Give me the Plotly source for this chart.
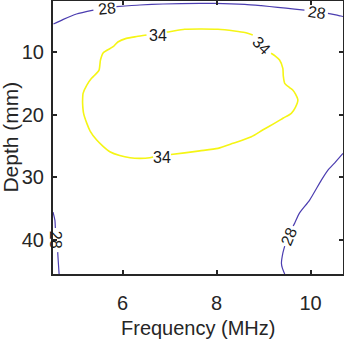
import plotly.graph_objects as go

# contour level 34 (yellow), split where the labels sit
c34_a_freq = [6.51, 6.30, 6.08, 5.90, 5.80, 5.59, 5.53, 5.50, 5.41, 5.34, 5.24, 5.16, 5.15, 5.15,
              5.17, 5.24, 5.31, 5.45, 5.58, 5.73, 5.94, 6.16, 6.37, 6.58, 6.65]
c34_a_depth = [7.34, 7.58, 7.87, 8.45, 9.20, 10.16, 11.32, 12.92, 13.71, 14.24, 15.31, 16.63, 17.69, 18.22,
               19.77, 21.41, 22.63, 24.07, 25.02, 25.93, 26.54, 26.89, 26.98, 26.89, 26.78]
c34_b_freq = [7.03, 7.32, 7.64, 8.03, 8.35, 8.74, 8.98, 9.23, 9.42, 9.59, 9.68, 9.73, 9.68, 9.62,
              9.55, 9.45, 9.42, 9.41, 9.34, 9.25, 9.16]
c34_b_depth = [26.38, 26.11, 25.79, 25.39, 24.59, 23.54, 22.47, 21.41, 20.56, 19.81, 18.81, 17.69, 16.74, 16.10,
               15.70, 15.03, 13.87, 12.64, 11.32, 10.69, 10.25]
c34_c_freq = [8.77, 8.60, 8.38, 8.03, 7.64, 7.32, 7.00, 6.94]
c34_c_depth = [7.34, 6.94, 6.70, 6.43, 6.38, 6.43, 6.81, 6.86]

# contour level 28 (blue)
c28_top1_freq = [4.53, 4.74, 5.02, 5.38]
c28_top1_depth = [5.59, 4.84, 3.99, 3.36]
c28_top2_freq = [5.87, 6.37, 6.86, 7.64, 7.96, 8.60, 8.95, 9.30, 9.66, 9.87]
c28_top2_depth = [2.83, 2.56, 2.40, 2.29, 2.29, 2.45, 2.67, 2.93, 3.20, 3.36]
c28_top3_freq = [10.37, 10.65, 10.69]
c28_top3_depth = [3.88, 4.31, 4.39]
c28_right1_freq = [10.69, 10.51, 10.37, 10.23, 9.98, 9.76, 9.66, 9.63]
c28_right1_depth = [26.19, 27.73, 28.85, 30.44, 33.63, 35.74, 37.34, 37.77]
c28_right2_freq = [9.45, 9.41, 9.38, 9.40, 9.45]
c28_right2_depth = [40.95, 42.07, 43.71, 44.46, 45.41]
c28_left1_freq = [4.52, 4.56, 4.57]
c28_left1_depth = [35.54, 36.81, 38.09]
c28_left2_freq = [4.62, 4.63, 4.65]
c28_left2_depth = [41.91, 43.18, 45.42]

# contour labels
label_text = ['34', '34', '34', '28', '28', '28', '28']
label_freq = [6.76, 6.83, 8.96, 5.66, 10.14, 9.54, 4.59]
label_depth = [7.34, 26.80, 8.93, 3.09, 3.71, 39.44, 40.00]

x_ticks = [6, 8, 10]
y_ticks = [10, 20, 30, 40]

BLUE = '#4b3db0'
YELLOW = '#f5f515'
FONT = 'Liberation Sans, Arial'
label_angles = [0, 0, 45, -6, 8, -67, 90]

fig = go.Figure()

segments = [
    (c34_a_freq, c34_a_depth, YELLOW, 1.6),
    (c34_b_freq, c34_b_depth, YELLOW, 1.6),
    (c34_c_freq, c34_c_depth, YELLOW, 1.6),
    (c28_top1_freq, c28_top1_depth, BLUE, 1.2),
    (c28_top2_freq, c28_top2_depth, BLUE, 1.2),
    (c28_top3_freq, c28_top3_depth, BLUE, 1.2),
    (c28_right1_freq, c28_right1_depth, BLUE, 1.2),
    (c28_right2_freq, c28_right2_depth, BLUE, 1.2),
    (c28_left1_freq, c28_left1_depth, BLUE, 1.2),
    (c28_left2_freq, c28_left2_depth, BLUE, 1.2),
]
for xs, ys, col, w in segments:
    fig.add_trace(go.Scatter(x=xs, y=ys, mode='lines',
                             line=dict(color=col, width=w, shape='spline', smoothing=0.6),
                             showlegend=False, hoverinfo='skip'))

for txt, fx, dy, ang in zip(label_text, label_freq, label_depth, label_angles):
    fig.add_annotation(x=fx, y=dy, xref='x', yref='y', text=txt, showarrow=False,
                       textangle=ang, font=dict(family=FONT, size=16, color='#1a1a1a'))

# axis titles placed as paper annotations
fig.add_annotation(x=0.5, y=-0.152, xref='paper', yref='paper', text='Frequency (MHz)',
                   showarrow=False, xanchor='center', yanchor='top',
                   font=dict(family=FONT, size=20, color='#262626'))
fig.add_annotation(x=-0.148, y=0.5, xref='paper', yref='paper', text='Depth (mm)',
                   showarrow=False, xanchor='center', yanchor='middle', textangle=-90,
                   font=dict(family=FONT, size=21, color='#262626'))

axis_style = dict(showline=True, linecolor='#262626', linewidth=2, mirror='ticks',
                  ticks='inside', ticklen=4, tickwidth=1.5, tickcolor='#262626',
                  showgrid=False, zeroline=False, automargin=False,
                  tickfont=dict(family=FONT, size=20, color='#262626'))

fig.update_layout(
    width=344, height=340,
    margin=dict(l=53, r=1, t=1, b=66),
    plot_bgcolor='white', paper_bgcolor='white',
    xaxis=dict(range=[4.52, 10.69], tickvals=x_ticks, ticklabelstandoff=10, **axis_style),
    yaxis=dict(range=[45.4, 1.92], tickvals=y_ticks, ticklabelstandoff=3, **axis_style),
)

fig.write_html("out.html", config={'displayModeBar': False},
               post_script="document.body.style.margin='0';")
